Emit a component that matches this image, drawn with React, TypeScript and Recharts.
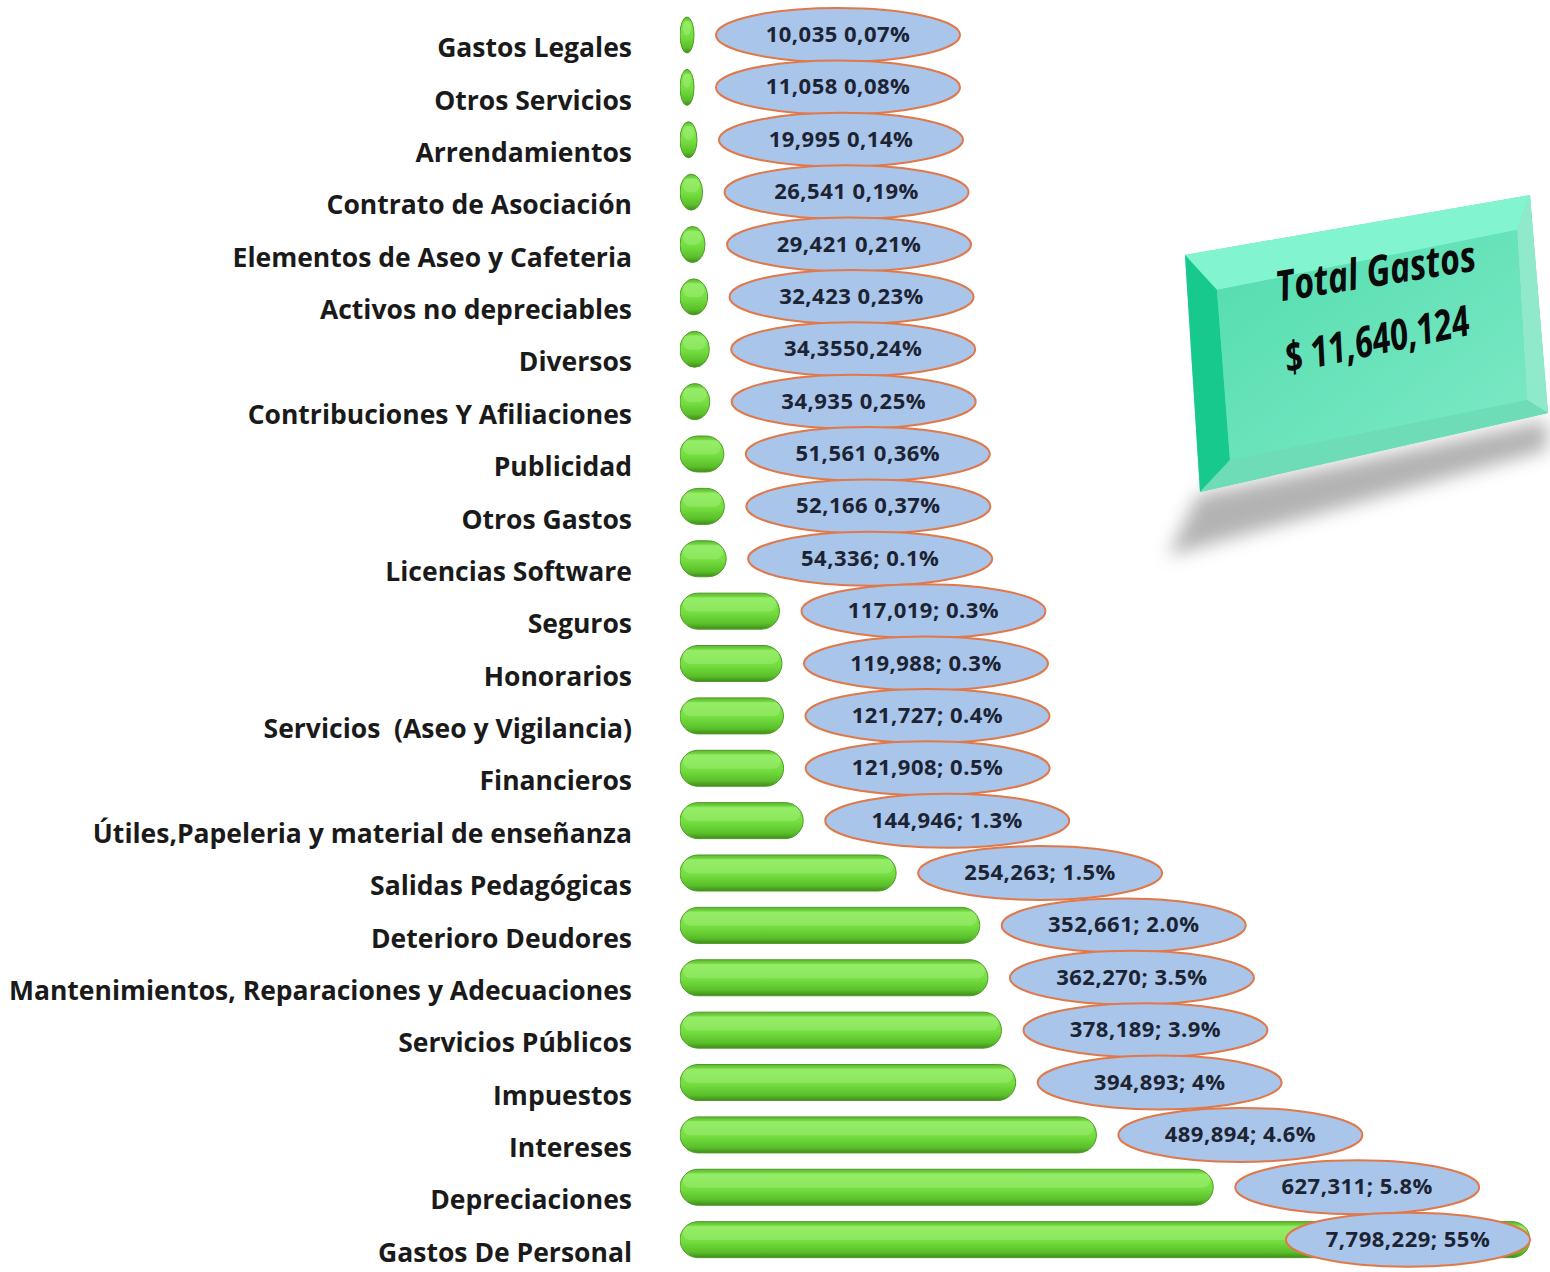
import { BarChart, Bar, XAxis, YAxis, LabelList } from 'recharts';

// categorías (de arriba hacia abajo)
const CATEGORIES = [
  'Gastos Legales',
  'Otros Servicios',
  'Arrendamientos',
  'Contrato de Asociación',
  'Elementos de Aseo y Cafeteria',
  'Activos no depreciables',
  'Diversos',
  'Contribuciones Y Afiliaciones',
  'Publicidad',
  'Otros Gastos',
  'Licencias Software',
  'Seguros',
  'Honorarios',
  'Servicios  (Aseo y Vigilancia)',
  'Financieros',
  'Útiles,Papeleria y material de enseñanza',
  'Salidas Pedagógicas',
  'Deterioro Deudores',
  'Mantenimientos, Reparaciones y Adecuaciones',
  'Servicios Públicos',
  'Impuestos',
  'Intereses',
  'Depreciaciones',
  'Gastos De Personal',
];

const VALUES = [
  10035, 11058, 19995, 26541, 29421, 32423, 34355, 34935, 51561, 52166, 54336,
  117019, 119988, 121727, 121908, 144946, 254263, 352661, 362270, 378189,
  394893, 489894, 627311, 7798229,
];

// texto de las etiquetas tal como aparece
const LABELS = [
  '10,035 0,07%',
  '11,058 0,08%',
  '19,995 0,14%',
  '26,541 0,19%',
  '29,421 0,21%',
  '32,423 0,23%',
  '34,3550,24%',
  '34,935 0,25%',
  '51,561 0,36%',
  '52,166 0,37%',
  '54,336; 0.1%',
  '117,019; 0.3%',
  '119,988; 0.3%',
  '121,727; 0.4%',
  '121,908; 0.5%',
  '144,946; 1.3%',
  '254,263; 1.5%',
  '352,661; 2.0%',
  '362,270; 3.5%',
  '378,189; 3.9%',
  '394,893; 4%',
  '489,894; 4.6%',
  '627,311; 5.8%',
  '7,798,229; 55%',
];

const TOTAL_TITLE = 'Total Gastos';
const TOTAL_VALUE = '$ 11,640,124';

const W = 1550;
const H = 1272;
const MARGIN = { top: 9, right: 20, bottom: 6, left: 0 };
const PLOT_RIGHT = W - MARGIN.right;
const FONT = "'Open Sans', Lato, sans-serif";

const data = CATEGORIES.map((name, i) => ({ name, value: VALUES[i], label: LABELS[i] }));

const PillBar = (props: any) => {
  const { x, y, width, height } = props;
  let w = Math.min(width, PLOT_RIGHT - x);
  w = Math.max(w, 14);
  const r = Math.min(w / 2, height / 2);
  return (
    <g>
      <rect x={x} y={y} width={w} height={height} rx={r} ry={height / 2}
        fill="url(#pillGrad)" stroke="#4f9a26" strokeWidth={1} />
      <rect x={x + 3} y={y + 4} width={Math.max(w - 6, 2)} height={height * 0.4}
        rx={Math.max(Math.min((w - 6) / 2, height * 0.2), 1)} ry={height * 0.2} fill="#c4f7a0" opacity={0.3} />
    </g>
  );
};

const EllipseLabel = (props: any) => {
  const vb = props.viewBox || props;
  const { x, y, width, height } = vb;
  const { index } = props;
  const rx = 122;
  const ry = 27;
  const end = Math.min(x + Math.max(width, 14), PLOT_RIGHT);
  const cx = Math.min(end + 22 + rx, PLOT_RIGHT - rx);
  const cy = y + height / 2;
  return (
    <g>
      <ellipse cx={cx} cy={cy} rx={rx} ry={ry} fill="#a9c5ea" stroke="#e0784a" strokeWidth={2} />
      <text x={cx} y={cy} dy={7} textAnchor="middle" fontFamily={FONT} fontWeight={700}
        fontSize={22} letterSpacing={0.5} fill="#1c2333">
        {LABELS[index]}
      </text>
    </g>
  );
};

const CategoryTick = (props: any) => {
  const { x, y, payload } = props;
  return (
    <text x={x} y={y} dy={22} textAnchor="end" fontFamily={FONT} fontWeight={700}
      fontSize={26.5} fill="#1a1a1a" style={{ whiteSpace: 'pre' }}>
      {payload.value}
    </text>
  );
};

const TotalBox = () => (
  <svg width={W} height={H} style={{ position: 'absolute', left: 0, top: 0, pointerEvents: 'none' }}>
    <defs>
      <filter id="shadowBlur" x="-20%" y="-50%" width="140%" height="200%">
        <feGaussianBlur stdDeviation="9" />
      </filter>
      <linearGradient id="faceGrad" x1="0" y1="0" x2="1" y2="1">
        <stop offset="0%" stopColor="#52dcae" />
        <stop offset="100%" stopColor="#7ee9c6" />
      </linearGradient>
    </defs>
    <polygon points="1198,495 1547,420 1547,450 1168,556" fill="#9a9a9a" opacity={0.75} filter="url(#shadowBlur)" />
    <polygon points="1185,255 1530,195 1548,413 1200,492" fill="#5fe0b4" />
    <polygon points="1185,255 1530,195 1517,230 1217,290" fill="#82f5d0" />
    <polygon points="1185,255 1217,290 1230,460 1200,492" fill="#18c98d" />
    <polygon points="1530,195 1548,413 1527,400 1517,230" fill="#8fe9ca" />
    <polygon points="1200,492 1230,460 1527,400 1548,413" fill="#6edcb6" />
    <polygon points="1217,290 1517,230 1527,400 1230,460" fill="url(#faceGrad)" />
    <g transform="translate(1378 286) rotate(-9) scale(0.9 1.12)">
      <text x={0} y={0} textAnchor="middle" fontFamily={FONT} fontWeight={700} fontStyle="italic"
        fontSize={38} fill="#0a0a0a">
        {TOTAL_TITLE}
      </text>
    </g>
    <g transform="translate(1380 354) rotate(-12) scale(0.88 1.15)">
      <text x={0} y={0} textAnchor="middle" fontFamily={FONT} fontWeight={700} fontStyle="italic"
        fontSize={37} fill="#0a0a0a">
        {TOTAL_VALUE}
      </text>
    </g>
  </svg>
);

export default function App() {
  return (
    <div style={{ position: 'absolute', left: 0, top: 0, width: W, height: H, background: '#fff' }}>
      <BarChart width={W} height={H} data={data} layout="vertical" margin={MARGIN} barSize={36}>
        <defs>
          <linearGradient id="pillGrad" x1="0" y1="0" x2="0" y2="1">
            <stop offset="0%" stopColor="#5cb62c" />
            <stop offset="15%" stopColor="#80e84e" />
            <stop offset="55%" stopColor="#74de40" />
            <stop offset="85%" stopColor="#5abf2a" />
            <stop offset="100%" stopColor="#3f8d1b" />
          </linearGradient>
        </defs>
        <XAxis type="number" domain={[0, 1000000]} allowDataOverflow hide />
        <YAxis type="category" dataKey="name" width={680} axisLine={false} tickLine={false}
          tickSize={0} tickMargin={48} interval={0} tick={<CategoryTick />} />
        <Bar dataKey="value" isAnimationActive={false} shape={<PillBar />}>
          <LabelList dataKey="label" content={<EllipseLabel />} />
        </Bar>
      </BarChart>
      <TotalBox />
    </div>
  );
}
